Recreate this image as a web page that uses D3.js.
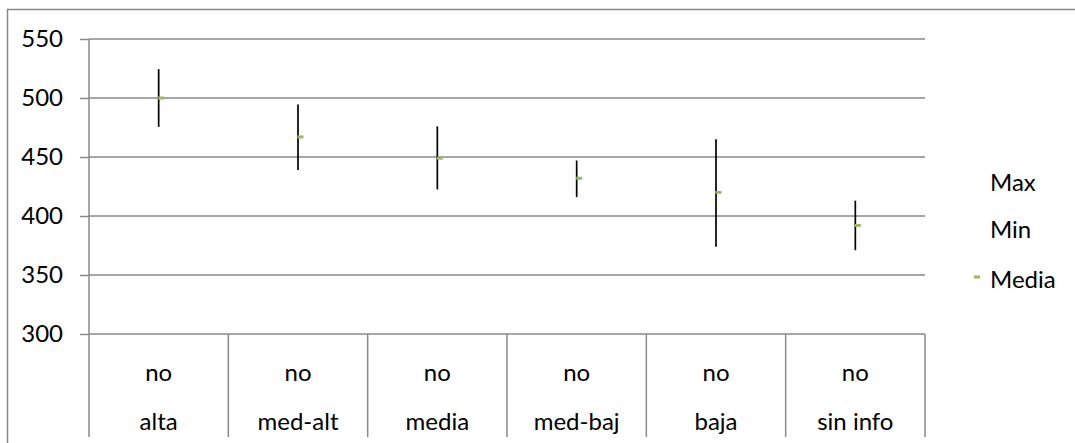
<!DOCTYPE html>
<html>
<head>
<meta charset="utf-8">
<script src="https://cdn.jsdelivr.net/npm/d3@7"></script>
<style>
  html, body { margin: 0; padding: 0; background: #fff; }
  svg { display: block; }
  text { font-family: Lato, "Open Sans", sans-serif; fill: #000; }
</style>
</head>
<body>
<svg id="chart" width="1075" height="443"></svg>
<script>
// ---- data ----
const groups = ["alta", "med-alt", "media", "med-baj", "baja", "sin info"];
const outerLabels = ["no", "no", "no", "no", "no", "no"];
const maxValues = [524.5, 494.5, 476, 447, 465, 413];
const minValues = [475.5, 439, 422.5, 416, 374, 371];
const mediaValues = [500, 467, 449, 432, 420, 392];
const yTicks = [300, 350, 400, 450, 500, 550];
const legendLabels = ["Max", "Min", "Media"];

// ---- layout ----
const svg = d3.select("#chart");
const plot = { left: 89, right: 925, top: 39, bottom: 334 };
const gridColor = "#898989";
const fs = 24;

const x = d3.scaleBand().domain(groups).range([plot.left, plot.right]).padding(0);
const y = d3.scaleLinear().domain([300, 550]).range([plot.bottom, plot.top]);

// outer border (extends past right/bottom edges)
svg.append("rect")
  .attr("x", 7.5).attr("y", 9.5)
  .attr("width", 1200).attr("height", 600)
  .attr("fill", "none").attr("stroke", gridColor).attr("stroke-width", 1.5);

// y axis with gridlines
const yAxis = d3.axisLeft(y).tickValues(yTicks).tickSize(9).tickPadding(17).tickFormat(d3.format("d"));
const gy = svg.append("g").attr("transform", `translate(${plot.left},0)`).call(yAxis);
gy.select(".domain").remove();
gy.selectAll(".tick line").attr("stroke", gridColor).attr("stroke-width", 1.5);
gy.selectAll(".tick text").attr("font-size", fs).attr("fill", "#000")
  .attr("font-family", "Lato, 'Open Sans', sans-serif");

svg.append("g").selectAll("line.grid").data(yTicks).join("line")
  .attr("x1", plot.left).attr("x2", plot.right)
  .attr("y1", d => y(d)).attr("y2", d => y(d))
  .attr("stroke", gridColor).attr("stroke-width", 1.5);

// vertical axis line & category dividers
const divBottom = 437;
svg.append("line")
  .attr("x1", plot.left).attr("x2", plot.left)
  .attr("y1", plot.top).attr("y2", divBottom)
  .attr("stroke", gridColor).attr("stroke-width", 1.5);

const boundaries = groups.map(g => x(g)).concat([plot.right]).slice(1);
svg.append("g").selectAll("line").data(boundaries).join("line")
  .attr("x1", d => d).attr("x2", d => d)
  .attr("y1", plot.bottom).attr("y2", divBottom)
  .attr("stroke", gridColor).attr("stroke-width", 1.5);

// category labels (two rows)
const cx = g => x(g) + x.bandwidth() / 2;
svg.append("g").selectAll("text").data(groups).join("text")
  .attr("x", (d) => cx(d)).attr("y", 381)
  .attr("text-anchor", "middle").attr("font-size", fs)
  .text((d, i) => outerLabels[i]);
svg.append("g").selectAll("text").data(groups).join("text")
  .attr("x", d => cx(d)).attr("y", 430)
  .attr("text-anchor", "middle").attr("font-size", fs)
  .text(d => d);

// hi-low lines
svg.append("g").selectAll("line").data(groups).join("line")
  .attr("x1", d => cx(d)).attr("x2", d => cx(d))
  .attr("y1", (d, i) => y(maxValues[i])).attr("y2", (d, i) => y(minValues[i]))
  .attr("stroke", "#000").attr("stroke-width", 1.7);

// media markers
svg.append("g").selectAll("rect").data(groups).join("rect")
  .attr("x", d => cx(d) - 0.5).attr("y", (d, i) => y(mediaValues[i]) - 1.5)
  .attr("width", 6).attr("height", 3)
  .attr("fill", "#9BBB59");

// legend
const legY = [191, 238, 288];
const lg = svg.append("g");
lg.selectAll("text").data(legendLabels).join("text")
  .attr("x", 990).attr("y", (d, i) => legY[i])
  .attr("font-size", fs).text(d => d);
lg.append("rect").attr("x", 974).attr("y", 275.5).attr("width", 6).attr("height", 3).attr("fill", "#9BBB59");
</script>
</body>
</html>
